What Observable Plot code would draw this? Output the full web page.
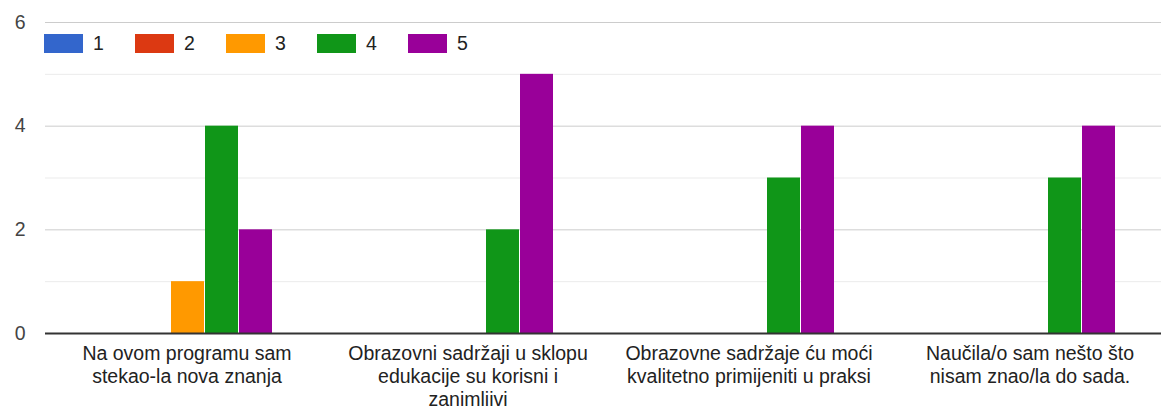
<!DOCTYPE html>
<html>
<head>
<meta charset="utf-8">
<script src="https://cdn.jsdelivr.net/npm/d3@7"></script>
<script src="https://cdn.jsdelivr.net/npm/@observablehq/plot@0.6"></script>
<style>
  html, body { margin: 0; padding: 0; background: #fff; }
  #wrap { position: relative; width: 1161px; height: 407px; overflow: hidden; font-family: "Liberation Sans", Arial, sans-serif; }
  #legend { position: absolute; left: 44px; top: 34px; display: flex; }
  .item { width: 91px; display: flex; align-items: center; height: 19px; }
  .sw { width: 39px; height: 19px; margin-right: 10px; box-sizing: border-box; }
  .lb { font-size: 19.5px; color: #222; }
</style>
</head>
<body>
<div id="wrap"><div id="chart"></div><div id="legend"></div></div>
<script>
const categories = [
  "Na ovom programu sam stekao-la nova znanja",
  "Obrazovni sadržaji u sklopu edukacije su korisni i zanimliivi",
  "Obrazovne sadržaje ću moći kvalitetno primijeniti u praksi",
  "Naučila/o sam nešto što nisam znao/la do sada."
];
const categoryLabels = [
  "Na ovom programu sam\nstekao-la nova znanja",
  "Obrazovni sadržaji u sklopu\nedukacije su korisni i\nzanimliivi",
  "Obrazovne sadržaje ću moći\nkvalitetno primijeniti u praksi",
  "Naučila/o sam nešto što\nnisam znao/la do sada."
];
const seriesNames = ["1", "2", "3", "4", "5"];
const seriesColors = ["#3366cc", "#dc3912", "#ff9900", "#109618", "#990099"];
const series1 = [0, 0, 0, 0];
const series2 = [0, 0, 0, 0];
const series3 = [1, 0, 0, 0];
const series4 = [4, 2, 3, 3];
const series5 = [2, 5, 4, 4];
const yTicks = [0, 2, 4, 6];

const allSeries = [series1, series2, series3, series4, series5];
const data = [];
allSeries.forEach((vals, si) => {
  vals.forEach((v, ci) => {
    if (v > 0) data.push({category: categories[ci], series: seriesNames[si], value: v});
  });
});

const chart = Plot.plot({
  width: 1161,
  height: 407,
  marginLeft: 44,
  marginRight: -8,
  marginTop: 22,
  marginBottom: 74,
  style: {fontFamily: "'Liberation Sans', Arial, sans-serif", fontSize: "19.5px", background: "#fff", overflow: "hidden"},
  fx: {domain: categories, padding: 0, axis: null},
  x: {domain: seriesNames, paddingInner: 0.043, paddingOuter: 1.55, align: 0.513, axis: null},
  y: {domain: [0, 6], axis: null},
  color: {domain: seriesNames, range: seriesColors},
  marks: [
    Plot.ruleY([1, 3, 5], {stroke: "#ebebeb", strokeWidth: 1}),
    Plot.ruleY([2, 4, 6], {stroke: "#cccccc", strokeWidth: 1}),
    Plot.barY(data, {fx: "category", x: "series", y: "value", fill: "series"}),
    Plot.ruleY([0], {stroke: "#333333", strokeWidth: 2}),
    Plot.axisY({ticks: yTicks, tickSize: 0, tickPadding: 20, tickFormat: d => String(d), label: null, fill: "#444", fontSize: 19.5}),
    Plot.axisFx({
      anchor: "bottom",
      tickSize: 0,
      tickPadding: 10,
      dx: 1,
      tickFormat: d => categoryLabels[categories.indexOf(d)],
      fill: "#222",
      fontSize: 19.5,
      lineHeight: 1.18,
      label: null
    })
  ]
});
document.getElementById("chart").appendChild(chart);

const legend = document.getElementById("legend");
seriesNames.forEach((name, i) => {
  const item = document.createElement("div");
  item.className = "item";
  const sw = document.createElement("div");
  sw.className = "sw";
  sw.style.background = seriesColors[i];
  const lb = document.createElement("span");
  lb.className = "lb";
  lb.textContent = name;
  item.appendChild(sw);
  item.appendChild(lb);
  legend.appendChild(item);
});
</script>
</body>
</html>
